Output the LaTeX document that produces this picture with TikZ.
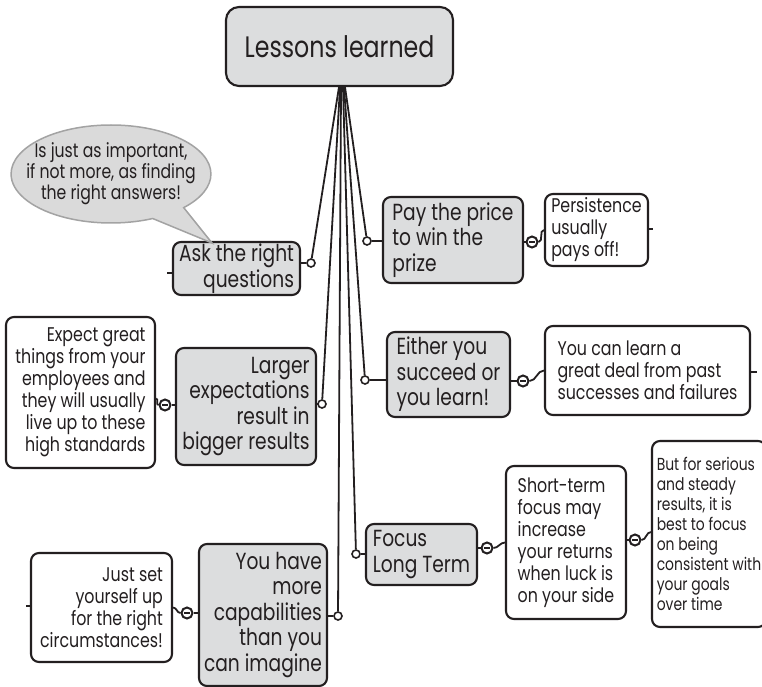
\documentclass[tikz,border=0pt]{standalone}
\usepackage{fontspec}
\setmainfont{Poppins}[FakeStretch=0.8]
\usetikzlibrary{shapes.callouts}

\definecolor{ink}{HTML}{231F20}
\definecolor{boxgray}{HTML}{DCDDDE}
\definecolor{bubblegray}{HTML}{DADADA}
\definecolor{bubbleedge}{HTML}{A3A3A3}

\newcommand\rootfont{\fontsize{29.6}{32}\selectfont}
\newcommand\lvlone{\fontsize{23.3}{25.5}\selectfont}
\newcommand\lvltwo{\fontsize{19.8}{22}\selectfont}
\newcommand\lvlsmall{\fontsize{17.4}{20}\selectfont}
\newcommand\notefont{\fontsize{19.6}{18.5}\selectfont}

\tikzset{
  topic/.style={draw=ink, line width=2.1pt, rounded corners=8pt, inner sep=0pt, text=ink},
  graybox/.style={topic, fill=boxgray, font=\lvlone},
  whitebox/.style={topic, fill=white, font=\lvltwo},
  link/.style={draw=ink, line width=1.8pt},
  knob/.style={circle, draw=ink, fill=white, line width=1.6pt, minimum size=8pt, inner sep=0pt},
  fold/.style={circle, draw=ink, fill=white, line width=2pt, minimum size=11pt, inner sep=0pt,
    path picture={\draw[ink, line width=2pt]
      ([xshift=-2.6pt]path picture bounding box.center) -- ([xshift=2.6pt]path picture bounding box.center);}},
  bubble/.style={ellipse callout, draw=bubbleedge, fill=bubblegray, line width=1.5pt,
    inner xsep=-14pt, inner ysep=0pt, font=\notefont, text=ink, align=center, callout pointer arc=22},
}

\begin{document}
\begin{tikzpicture}[x=1pt, y=-1pt]
\useasboundingbox (0,0) rectangle (762,687);
\fill[white] (0,0) rectangle (762,687);

% central topic
\node[topic, fill=boxgray, rounded corners=13pt, font=\rootfont,
      minimum width=227pt, minimum height=79pt] (root) at (339.5,46.5) {Lessons learned};

% main topics
\node[graybox, align=right, minimum width=127pt, minimum height=53pt] (ask) at (236.5,268.5)
  {Ask the right\\questions};
\node[graybox, align=left, minimum width=140pt, minimum height=86pt] (pay) at (453,240)
  {Pay the price\\to win the\\prize};
\node[graybox, align=right, minimum width=140pt, minimum height=117pt] (larger) at (246,406.5)
  {Larger\\expectations\\result in\\bigger results};
\node[graybox, align=left, minimum width=123pt, minimum height=85pt] (either) at (448.5,374.5)
  {Either you\\succeed or\\you learn!};
\node[graybox, align=left, minimum width=111pt, minimum height=61pt] (focus) at (421.5,554.5)
  {Focus\\Long Term};
\node[graybox, align=right, minimum width=128pt, minimum height=142pt] (youhave) at (263,615)
  {You have\\more\\capabilities\\than you\\can imagine};

% subtopics
\node[whitebox, align=left, minimum width=103pt, minimum height=72pt] (pers) at (596.5,230)
  {Persistence\\usually\\pays off!};
\node[whitebox, align=right, minimum width=149pt, minimum height=151pt] (expect) at (80.5,392.5)
  {Expect great\\things from your\\employees and\\they will usually\\live up to these\\high standards};
\node[whitebox, align=left, minimum width=205pt, minimum height=89pt] (learn) at (647.5,370.5)
  {You can learn a\\great deal from past\\successes and failures};
\node[whitebox, align=left, minimum width=120pt, minimum height=153pt] (short) at (566,542.5)
  {Short-term\\focus may\\increase\\your returns\\when luck is\\on your side};
\node[whitebox, font=\lvlsmall, align=left, minimum width=114pt, minimum height=186pt] (serious) at (709,534)
  {But for serious\\and steady\\results, it is\\best to focus\\on being\\consistent with\\your goals\\over time};
\node[whitebox, align=right, minimum width=141pt, minimum height=109pt] (justset) at (101.5,607.5)
  {Just set\\yourself up\\for the right\\circumstances!};

% callout
\coordinate (tip) at (212,243);
\node[bubble, minimum width=193pt, minimum height=98pt, callout absolute pointer={(tip)}] (note) at (111,174)
  {Is just as important,\\if not more, as finding\\the right answers!};

% attachment knobs on the central topic's branches
\node[knob] (kask) at (311,263) {};
\node[knob] (kpay) at (367,241) {};
\node[knob] (klarger) at (322,404) {};
\node[knob] (keither) at (365,380) {};
\node[knob] (kfocus) at (356,554) {};
\node[knob] (kyou) at (338,616) {};

\draw[link] ([xshift=-0.5pt]root.south) -- (kask);
\draw[link] ([xshift=0.5pt]root.south) -- (klarger);
\draw[link] ([xshift=1.5pt]root.south) -- (kyou);
\draw[link] ([xshift=3.5pt]root.south) -- (kfocus);
\draw[link] ([xshift=4.5pt]root.south) -- (keither);
\draw[link] ([xshift=5.5pt]root.south) -- (kpay);

\draw[link] (kask) -- (ask.east |- kask);
\draw[link] (kpay) -- (pay.west |- kpay);
\draw[link] (klarger) -- (larger.east |- klarger);
\draw[link] (keither) -- (either.west |- keither);
\draw[link] (kfocus) -- (focus.west |- kfocus);
\draw[link] (kyou) -- (youhave.east |- kyou);

% collapse buttons and subtopic links
\node[fold] (mpay) at (532,242) {};
\node[fold] (mlarger) at (165,405) {};
\node[fold] (meither) at (523,381) {};
\node[fold] (mfocus) at (487,548) {};
\node[fold] (mshort) at (635,540) {};
\node[fold] (myou) at (187,613) {};

\draw[link] (pay.east |- mpay) -- (mpay);
\draw[link] (mpay) to[out=0, in=180] (pers.west);
\draw[link] (larger.west |- mlarger) -- (mlarger);
\draw[link] (mlarger) to[out=180, in=0] ([yshift=-6pt]expect.east);
\draw[link] (either.east |- meither) -- (meither);
\draw[link] (meither) to[out=0, in=180] (learn.west);
\draw[link] (focus.east |- mfocus) -- (mfocus);
\draw[link] (mfocus) to[out=0, in=180] (short.west);
\draw[link] (short.east |- mshort) -- (mshort);
\draw[link] (mshort) to[out=0, in=180] ([yshift=2pt]serious.west);
\draw[link] (youhave.west |- myou) -- (myou);
\draw[link] (myou) to[out=180, in=0] (justset.east);

% stubs of hidden branches
\coordinate (askstub) at (167,273);
\coordinate (persstub) at (653,229);
\coordinate (learnstub) at (757,372);
\coordinate (juststub) at (26,606);
\draw[link] (ask.west |- askstub) -- (askstub);
\draw[link] (pers.east |- persstub) -- (persstub);
\draw[link] (learn.east |- learnstub) -- (learnstub);
\draw[link] (justset.west |- juststub) -- (juststub);
\end{tikzpicture}
\end{document}
